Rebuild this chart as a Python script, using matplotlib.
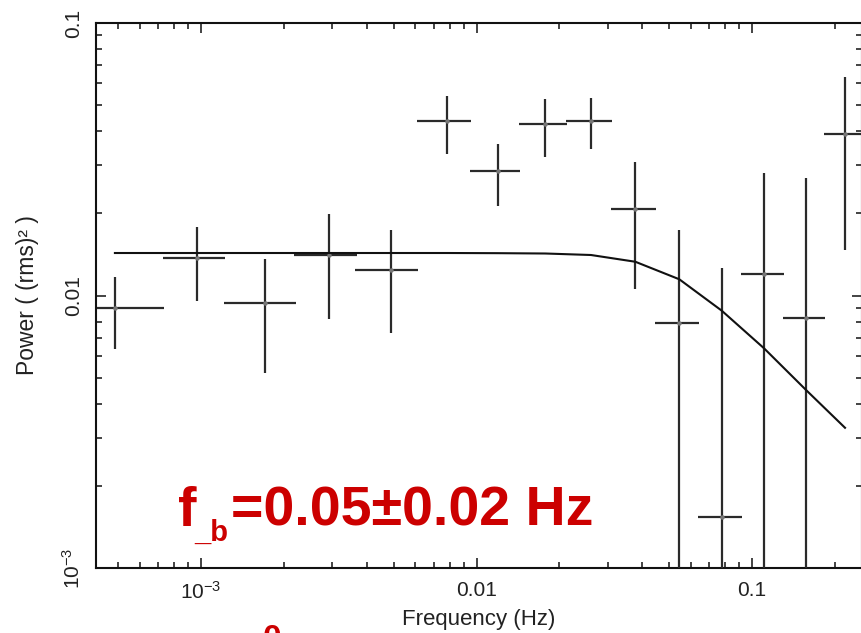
import numpy as np
import matplotlib
matplotlib.use("Agg")
import matplotlib.pyplot as plt
from matplotlib.ticker import FixedLocator, FixedFormatter, LogLocator, NullFormatter

plt.rcParams['font.family'] = ['Liberation Sans', 'DejaVu Sans']
plt.rcParams['mathtext.fontset'] = 'custom'
plt.rcParams['mathtext.rm'] = 'Liberation Sans'
plt.rcParams['mathtext.it'] = 'Liberation Sans:italic'
plt.rcParams['mathtext.bf'] = 'Liberation Sans:bold'

# ---- data ----
freq = [4.87e-4, 9.69e-4, 1.703e-3, 2.914e-3, 4.894e-3, 7.795e-3, 0.01194, 0.01777,
        0.02604, 0.03771, 0.05446, 0.07762, 0.1106, 0.1571, 0.2176]
freq_lo = [4.19e-4, 7.26e-4, 1.212e-3, 2.176e-3, 3.631e-3, 6.066e-3, 9.47e-3, 0.01430,
           0.02107, 0.03086, 0.04446, 0.0638, 0.0910, 0.1293, 0.1830]
freq_hi = [7.34e-4, 1.222e-3, 2.207e-3, 3.674e-3, 6.117e-3, 9.53e-3, 0.01439, 0.02125,
           0.03103, 0.04482, 0.06436, 0.09176, 0.1307, 0.1841, 0.26]
power = [9.02e-3, 0.01369, 9.41e-3, 0.01408, 0.01237, 0.04370, 0.02864, 0.04261,
         0.04380, 0.02072, 7.91e-3, 1.543e-3, 0.01199, 8.25e-3, 0.03903]
power_lo = [6.37e-3, 9.54e-3, 5.21e-3, 8.20e-3, 7.30e-3, 0.03306, 0.02130, 0.03231,
            0.03449, 0.01056, 0.0, 0.0, 0.0, 0.0, 0.01469]
power_hi = [0.01172, 0.01789, 0.01361, 0.01986, 0.01744, 0.05410, 0.03588, 0.05262,
            0.05293, 0.03090, 0.01740, 0.01259, 0.02808, 0.02692, 0.06353]
model = [0.01432, 0.01432, 0.01432, 0.01432, 0.01432, 0.01432, 0.01430, 0.01426,
         0.01408, 0.0133, 0.01147, 8.80e-3, 6.40e-3, 4.50e-3, 3.27e-3]

x_ticks = [1e-3, 0.01, 0.1]
x_ticklabels = [r'$10^{-3}$', '0.01', '0.1']
y_ticks = [1e-3, 0.01, 0.1]
y_ticklabels = [r'$10^{-3}$', '0.01', '0.1']
xlabel = 'Frequency (Hz)'
ylabel = 'Power ( (rms)² )'
annotation = ['f', '_b', '=0.05±0.02 Hz']
cut_text = '0'

W, H = 861, 633
fig = plt.figure(figsize=(W / 100, H / 100), dpi=100)
left, right, top, bottom = 96, 862, 23, 568
ax = fig.add_axes([left / W, 1 - bottom / H, (right - left) / W, (bottom - top) / H])
ax.set_xscale('log')
ax.set_yscale('log')
ax.set_xlim(10 ** (-3 + (left - 201) / 275.5), 10 ** (-3 + (right - 201) / 275.5))
ax.set_ylim(1e-3, 0.1)

f = np.array(freq)
p = np.array(power)
xerr = np.vstack([f - np.array(freq_lo), np.array(freq_hi) - f])
plo = np.maximum(np.array(power_lo), 1e-6)
yerr = np.vstack([p - plo, np.array(power_hi) - p])

ecol = '#2a2a2a'
ax.errorbar(f, p, xerr=xerr, yerr=yerr, fmt='none', ecolor=ecol, elinewidth=1.6,
            capsize=0, zorder=3)
ax.plot(f, p, 'o', ms=3.2, color='#777777', mec='none', zorder=4)
ax.plot(f, model, color='#111111', lw=1.5, zorder=5)

for s in ax.spines.values():
    s.set_linewidth(1.5)
    s.set_color('#111111')

ax.xaxis.set_major_locator(FixedLocator(x_ticks))
ax.xaxis.set_major_formatter(FixedFormatter(x_ticklabels))
ax.yaxis.set_major_locator(FixedLocator(y_ticks))
ax.yaxis.set_major_formatter(FixedFormatter(y_ticklabels))
ax.xaxis.set_minor_locator(LogLocator(base=10, subs=np.arange(2, 10)))
ax.yaxis.set_minor_locator(LogLocator(base=10, subs=np.arange(2, 10)))
ax.xaxis.set_minor_formatter(NullFormatter())
ax.yaxis.set_minor_formatter(NullFormatter())
ax.tick_params(which='both', direction='in', top=True, right=True, width=1.1, color='#111111')
ax.tick_params(which='major', length=7.5, labelsize=15, labelcolor='#222222')
ax.tick_params(which='minor', length=4.3)
ax.tick_params(axis='x', which='major', pad=9)
ax.tick_params(axis='y', which='major', pad=9)
for lab in ax.get_yticklabels():
    lab.set_rotation(90)
    lab.set_va('center')

ax.set_xlabel(xlabel, fontsize=16, color='#222222', labelpad=5)
ax.set_ylabel(ylabel, fontsize=16.5, color='#222222', labelpad=16)

red = '#cc0000'
fig.text(178 / W, 1 - 526 / H, annotation[0], fontsize=40, fontweight='bold', color=red,
         ha='left', va='baseline')
fig.text(194 / W, 1 - 541 / H, annotation[1], fontsize=21, fontweight='bold', color=red,
         ha='left', va='baseline')
fig.text(231 / W, 1 - 526 / H, annotation[2], fontsize=40, fontweight='bold', color=red,
         ha='left', va='baseline')
fig.text(263 / W, 1 - 648 / H, cut_text, fontsize=24, fontweight='bold', color=red,
         ha='left', va='baseline')

fig.savefig('out.png', dpi=100)
